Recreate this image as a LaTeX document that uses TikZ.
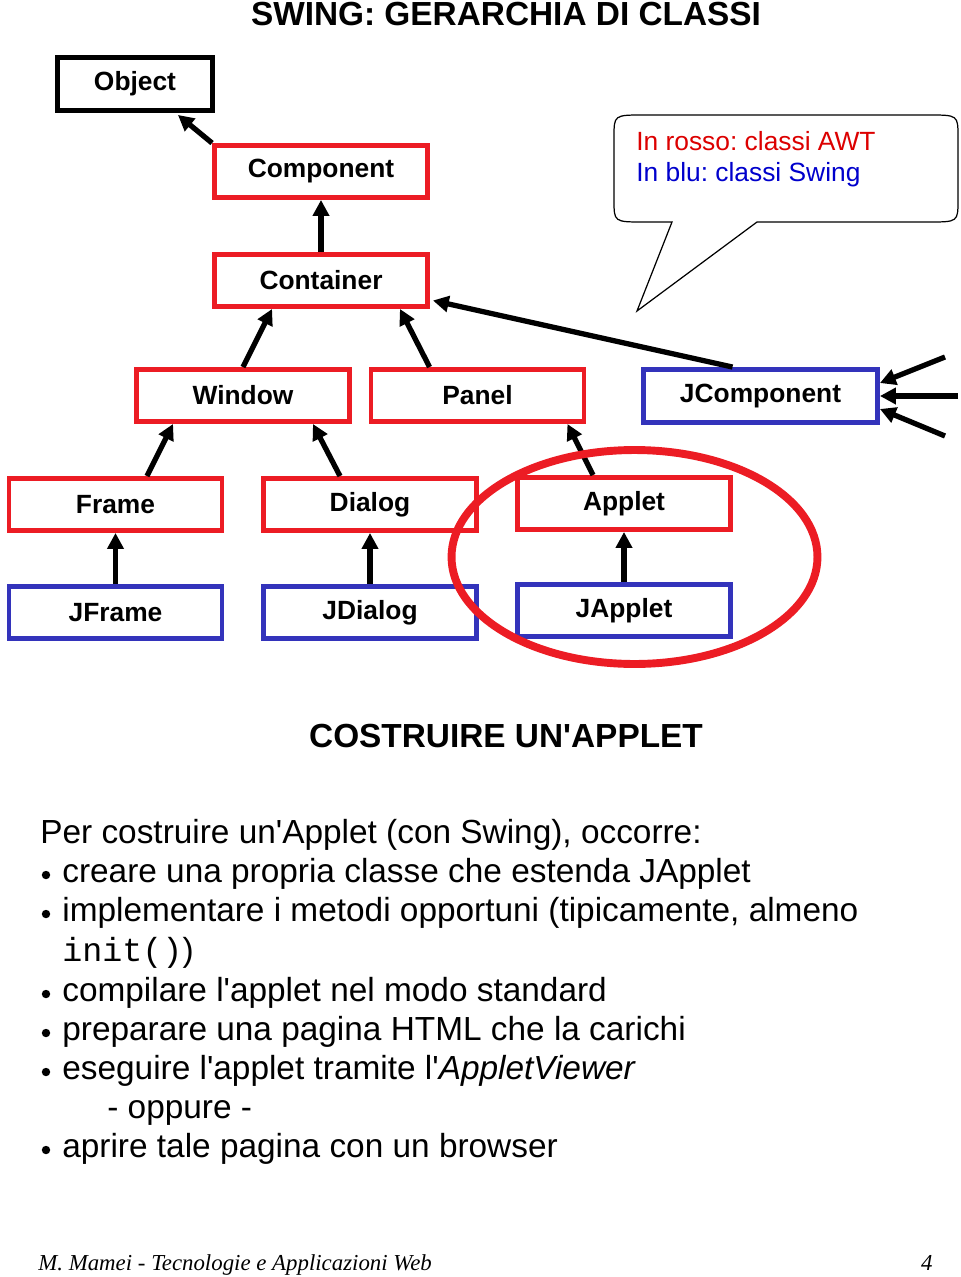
\documentclass[tikz,border=0pt]{standalone}
\usepackage{fontspec}
\setmainfont{Liberation Sans}
\setmonofont{Liberation Mono}
\newfontfamily\footfont{Liberation Serif}
\usetikzlibrary{arrows.meta,calc}
\definecolor{awtred}{RGB}{236,28,36}
\definecolor{swgblue}{RGB}{51,51,187}
\definecolor{txtred}{RGB}{220,0,0}
\definecolor{txtblue}{RGB}{0,0,204}
\newcommand\apo{\textquotesingle}
\frenchspacing
\begin{document}
\begin{tikzpicture}[x=0.02cm,y=-0.02cm,
  box/.style={draw,line width=2.8pt,minimum width=4.26cm,minimum height=1.04cm,
    inner sep=0pt,font=\fontsize{15}{18}\selectfont\bfseries},
  awt/.style={box,draw=awtred},
  swg/.style={box,draw=swgblue},
  arr/.style={line width=3pt,-{Triangle[length=9pt,width=9pt]}},
  txt/.style={anchor=base west,inner sep=0pt,font=\fontsize{19}{22}\selectfont}]
\useasboundingbox (0,0) rectangle (960,1277);
% titolo
\node[anchor=base,inner sep=0pt,font=\fontsize{19}{22}\selectfont\bfseries] (title) at (506,26) {SWING: GERARCHIA DI CLASSI};
% classi
\node[box,draw=black,minimum width=3.1cm,minimum height=1.06cm] (obj) at (135,84) {Object};
\node[awt] (cmp) at (321,171.5) {Component};
\node[awt] (cnt) at (321,280.5) {Container};
\node[awt] (win) at (243,395.5) {Window};
\node[awt] (pan) at (477.5,395.5) {Panel};
\node[swg,minimum width=4.68cm,minimum height=1.06cm] (jcmp) at (760.5,396) {JComponent};
\node[awt] (frm) at (115.5,504.5) {Frame};
\node[awt] (dlg) at (370,504.5) {Dialog};
\node[awt] (app) at (624,503.5) {Applet};
\node[swg] (jfrm) at (115.5,612.5) {JFrame};
\node[swg] (jdlg) at (370,612.5) {JDialog};
\node[swg] (japp) at (624,610.5) {JApplet};
% ereditarieta'
\draw[arr] (cmp.north west) -- ($(obj.south east)+(-37,2)$);
\draw[arr] (cnt.north) -- (cmp.south);
\draw[arr] (win.north) -- ($(cnt.south west)+(60,0)$);
\draw[arr] ($(pan.north west)+(61,0)$) -- ($(cnt.south east)+(-30,0)$);
\draw[arr] ($(jcmp.north)+(-28,0)$) -- ($(cnt.east)+(3,20)$);
\draw[arr] ($(frm.north)+(31.5,0)$) -- ($(win.south west)+(39,0)$);
\draw[arr] ($(dlg.north)+(-30,0)$) -- ($(win.south east)+(-39,0)$);
\draw[arr] ($(app.north)+(-31,0)$) -- ($(pan.south east)+(-19,0)$);
\draw[arr] (jfrm.north) -- (frm.south);
\draw[arr] (jdlg.north) -- (dlg.south);
\draw[arr] (japp.north) -- (app.south);
\coordinate (in1) at (945,357);
\coordinate (in2) at (958,396);
\coordinate (in3) at (945,436);
\draw[arr] (in1) -- ($(jcmp.east)+(0,-13)$);
\draw[arr] (in2) -- (jcmp.east);
\draw[arr] (in3) -- ($(jcmp.east)+(0,13)$);
\draw[awtred,line width=4.5pt] (634.5,557) ellipse [x radius=3.66cm,y radius=2.14cm];
% fumetto
\draw[line width=0.7pt] (672,222) -- (637,311) -- (757,222) -- (928,222)
  .. controls (958,222) .. (958,200) -- (958,137) .. controls (958,115) .. (928,115)
  -- (644,115) .. controls (614,115) .. (614,137) -- (614,200)
  .. controls (614,222) .. (644,222) -- cycle;
\node[anchor=base west,inner sep=0pt,font=\fontsize{15}{18}\selectfont,text=txtred] (awtnote) at (636,151) {In rosso: classi AWT};
\node[anchor=base west,inner sep=0pt,font=\fontsize{15}{18}\selectfont,text=txtblue] (swgnote) at (636,182) {In blu: classi Swing};
% testo
\node[anchor=base,inner sep=0pt,font=\fontsize{19}{22}\selectfont\bfseries] (head) at (506,747) {COSTRUIRE UN\apo APPLET};
\node[txt] (l0) at (40,843) {Per costruire un\apo Applet (con Swing), occorre:};
\node[txt] (l1) at (62,882) {creare una propria classe che estenda JApplet};
\node[txt] (l2) at (62,921) {implementare i metodi opportuni (tipicamente, almeno};
\node[txt] (l3) at (62,961) {\texttt{init()})};
\node[txt] (l4) at (62,1001) {compilare l\apo applet nel modo standard};
\node[txt] (l5) at (62,1040) {preparare una pagina HTML che la carichi};
\node[txt] (l6) at (62,1079) {eseguire l\apo applet tramite l\apo\textit{AppletViewer}};
\node[txt] (l7) at (107,1118) {- oppure -};
\node[txt] (l8) at (62,1157) {aprire tale pagina con un browser};
\foreach \y in {882,921,1001,1040,1079,1157}
  \fill (46,\y-7) circle (2.4pt);
% pie' di pagina
\node[anchor=base west,inner sep=0pt,font=\footfont\itshape\fontsize{13}{15}\selectfont] (foot) at (38,1270) {M. Mamei - Tecnologie e Applicazioni Web};
\node[anchor=base east,inner sep=0pt,font=\footfont\itshape\fontsize{13}{15}\selectfont] (page) at (933,1270) {4};
\end{tikzpicture}
\end{document}
